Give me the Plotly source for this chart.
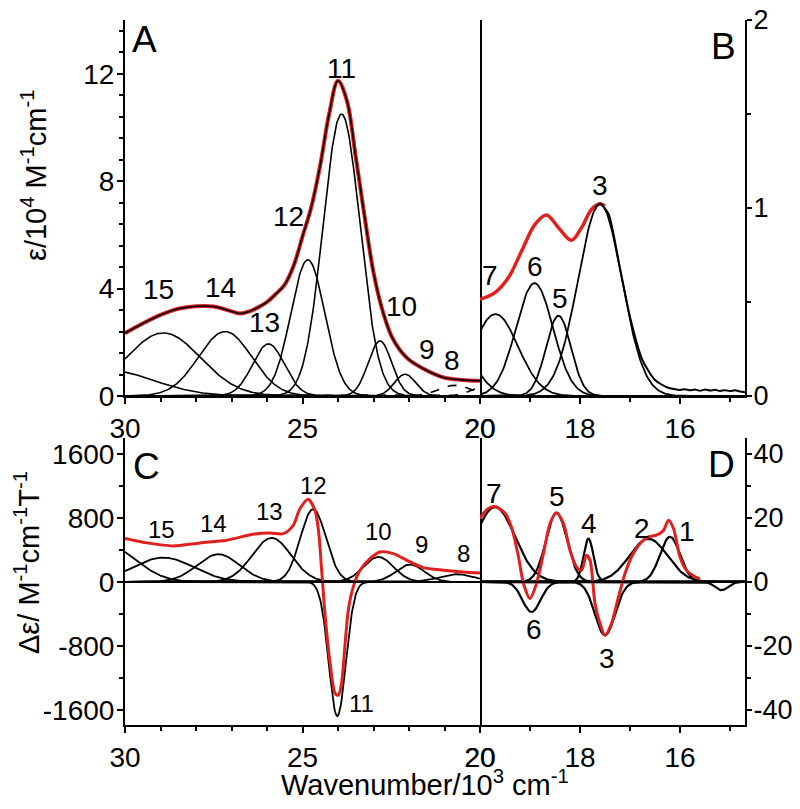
import numpy as np
import plotly.graph_objects as go

FONT = "Liberation Sans, Arial, sans-serif"
RED = "#e0201c"

# ---------------- data ----------------
# Absorption (panels A and B), units 10^4 M^-1 cm^-1, x in 10^3 cm^-1
abs_labels = ["16", "15", "14", "13", "12", "11", "10", "9", "8", "7", "6", "5", "3"]
abs_centers = [30.5, 28.92, 27.18, 25.96, 24.85, 23.90, 22.82, 22.11, 20.70, 19.69, 18.91, 18.43, 17.60]
abs_heights = [0.96, 2.35, 2.40, 1.94, 5.07, 10.5, 2.05, 0.81, 0.40, 0.436, 0.60, 0.427, 1.02]
abs_widths = [1.30, 1.05, 0.75, 0.45, 0.48, 0.52, 0.33, 0.30, 0.45, 0.45, 0.37, 0.25, 0.44]

# experimental / total absorption curve, panel A range
A_exp_x = [30.0, 29.5, 29.0, 28.5, 28.0, 27.5, 27.0, 26.75, 26.5, 26.25, 26.0, 25.75, 25.5, 25.25,
           25.0, 24.75, 24.5, 24.25, 24.0, 23.75, 23.5, 23.25, 23.0, 22.75, 22.5, 22.25, 22.0,
           21.5, 21.0, 20.5, 20.0]
A_exp_y = [2.34, 2.70, 3.02, 3.25, 3.34, 3.33, 3.15, 3.07, 3.15, 3.30, 3.50, 3.80, 4.15, 4.85,
           5.94, 7.05, 8.60, 10.5, 11.74, 11.0, 8.90, 6.68, 4.60, 3.20, 2.25, 1.70, 1.35,
           0.95, 0.68, 0.60, 0.57]
# panel B (red part and black experimental tail)
B_fit_x = [20.0, 19.7, 19.43, 19.17, 18.9, 18.67, 18.43, 18.17, 17.97, 17.77, 17.6, 17.5]
B_fit_y = [0.514, 0.55, 0.63, 0.77, 0.913, 0.963, 0.895, 0.828, 0.895, 0.993, 1.023, 1.01]
B_exp_x = [17.7, 17.6, 17.43, 17.2, 17.0, 16.75, 16.5, 16.25, 16.0, 15.9, 15.8, 15.7, 15.6,
           15.5, 15.4, 15.3, 15.2, 15.1, 15.0, 14.9, 14.8, 14.7]
B_exp_y = [1.0, 1.023, 0.97, 0.68, 0.42, 0.19, 0.085, 0.045, 0.032, 0.036, 0.030, 0.034, 0.028,
           0.035, 0.029, 0.033, 0.027, 0.031, 0.026, 0.030, 0.024, 0.020]

# MCD panel C (Delta epsilon, M^-1 cm^-1 T^-1)
c_labels = ["16", "15", "14", "13", "12", "11", "10", "9", "8"]
c_centers = [30.5, 28.92, 27.37, 25.87, 24.70, 24.02, 22.86, 21.97, 20.66]
c_heights = [457, 304, 346, 550, 910, -1679, 312, 217, 96]
c_widths = [0.80, 0.85, 0.60, 0.55, 0.36, 0.24, 0.42, 0.40, 0.50]
C_exp_x = [30.0, 29.39, 28.64, 27.89, 27.14, 26.39, 25.92, 25.54, 25.26, 25.07, 24.84, 24.65,
           24.55, 24.46, 24.36, 24.22, 24.08, 23.99, 23.9, 23.8, 23.71, 23.57, 23.38, 23.1,
           22.82, 22.44, 21.97, 21.6, 21.03, 20.47, 20.0]
C_exp_y = [542, 488, 450, 488, 521, 596, 612, 604, 708, 917, 1035, 896,
           646, 146, -437, -1021, -1396, -1417, -1271, -771, -354, -62, 146, 292,
           375, 354, 250, 179, 146, 125, 112]

# MCD panel D
d_labels = ["7", "6", "5", "4", "3", "2", "1", "0"]
d_centers = [19.70, 18.97, 18.47, 17.83, 17.50, 16.63, 16.20, 15.17]
d_heights = [23.4, -9.4, 21.6, 13.5, -16.7, 13.5, 14.1, -2.6]
d_widths = [0.40, 0.18, 0.21, 0.10, 0.20, 0.38, 0.20, 0.13]
D_exp_x = [20.0, 19.85, 19.7, 19.5, 19.37, 19.23, 19.13, 19.0, 18.87, 18.73, 18.6, 18.47, 18.33,
           18.2, 18.07, 17.97, 17.87, 17.8, 17.7, 17.6, 17.5, 17.37, 17.23, 17.1, 16.97, 16.77,
           16.63, 16.47, 16.33, 16.23, 16.13, 16.0, 15.87, 15.7, 15.6]
D_exp_y = [19.8, 22.8, 23.6, 21.5, 17.2, 7.8, -0.5, -5.2, -0.5, 8.9, 18.2, 21.6, 18.2,
           9.9, 4.7, 3.6, 8.3, 6.8, -6.8, -13.0, -16.7, -13.0, -4.7, 2.6, 7.8, 12.5,
           14.1, 14.6, 16.1, 19.3, 16.7, 7.8, 3.6, 1.6, 1.0]

# tick values / labels
A_yticks = [0, 4, 8, 12]
B_yticks = [0, 1, 2]
C_yticks = [-1600, -800, 0, 800, 1600]
D_yticks = [-40, -20, 0, 20, 40]
AC_xticks = [30, 25, 20]
BD_xticks = [20, 18, 16]

# ---------------- figure ----------------
OFF = 8               # default page body margin
W, H = 784, 789       # small enough that the page never needs scrollbars
def px(xp):           # page pixel -> paper fraction
    return (xp - OFF) / W
def py(yp):
    return (H - (yp - OFF)) / H

XL, XM, XR = px(125), px(480), px(745)
TOP = [py(396), py(20)]
BOT = [py(725), py(438)]

def gauss(x, c, a, s):
    return a * np.exp(-(x - c) ** 2 / (2 * s ** 2))

xa = np.linspace(30, 20, 501)
xb = np.linspace(20, 14.7, 266)

fig = go.Figure()
line_k = dict(color="black", width=1.8)

# panel A bands
for lab, c, a, s in zip(abs_labels, abs_centers, abs_heights, abs_widths):
    if c >= 19.5:
        dash = "dash" if c < 21 else "solid"
        fig.add_trace(go.Scatter(x=xa, y=gauss(xa, c, a, s), mode="lines",
                                 line=dict(color="black", width=1.6, dash=dash),
                                 xaxis="x", yaxis="y", showlegend=False, hoverinfo="skip"))
fig.add_trace(go.Scatter(x=A_exp_x, y=A_exp_y, mode="lines", line=dict(color=RED, width=4, shape="spline", smoothing=1.0),
                         xaxis="x", yaxis="y", showlegend=False))
fig.add_trace(go.Scatter(x=A_exp_x, y=A_exp_y, mode="lines", line=dict(color="black", width=1.6, shape="spline", smoothing=1.0),
                         xaxis="x", yaxis="y", showlegend=False))

# panel B bands
for lab, c, a, s in zip(abs_labels, abs_centers, abs_heights, abs_widths):
    if c < 21:
        fig.add_trace(go.Scatter(x=xb, y=gauss(xb, c, a, s), mode="lines", line=line_k,
                                 xaxis="x2", yaxis="y2", showlegend=False, hoverinfo="skip"))
fig.add_trace(go.Scatter(x=B_fit_x, y=B_fit_y, mode="lines", line=dict(color=RED, width=3.5, shape="spline", smoothing=1.0),
                         xaxis="x2", yaxis="y2", showlegend=False))
fig.add_trace(go.Scatter(x=B_exp_x, y=B_exp_y, mode="lines", line=dict(color="black", width=2, shape="spline", smoothing=0.6),
                         xaxis="x2", yaxis="y2", showlegend=False))

# panel C bands
for lab, c, a, s in zip(c_labels, c_centers, c_heights, c_widths):
    fig.add_trace(go.Scatter(x=xa, y=gauss(xa, c, a, s), mode="lines", line=line_k,
                             xaxis="x3", yaxis="y3", showlegend=False, hoverinfo="skip"))
fig.add_trace(go.Scatter(x=C_exp_x, y=C_exp_y, mode="lines", line=dict(color=RED, width=3, shape="spline", smoothing=0.8),
                         xaxis="x3", yaxis="y3", showlegend=False))

# panel D bands
for lab, c, a, s in zip(d_labels, d_centers, d_heights, d_widths):
    fig.add_trace(go.Scatter(x=xb, y=gauss(xb, c, a, s), mode="lines", line=dict(color="black", width=2.2),
                             xaxis="x4", yaxis="y4", showlegend=False, hoverinfo="skip"))
fig.add_trace(go.Scatter(x=D_exp_x, y=D_exp_y, mode="lines", line=dict(color=RED, width=3, shape="spline", smoothing=0.8),
                         xaxis="x4", yaxis="y4", showlegend=False))

tickfont = dict(family=FONT, size=28, color="black")
common = dict(showline=True, linecolor="black", linewidth=2, ticks="outside", ticklen=6, tickwidth=2,
              tickcolor="black", showgrid=False, zeroline=False, tickfont=tickfont, automargin=False,
              tickmode="array", ticklabeloverflow="allow")
ycommon = dict(common, ticklabelstandoff=-3)
rcommon = dict(common, ticklen=5, ticklabelstandoff=-4, tickfont=dict(family=FONT, size=27, color="black"))
minor_common = dict(ticks="outside", ticklen=4, tickwidth=1.5, tickcolor="black", showgrid=False)

def tt(vals):
    return [str(v) for v in vals]

layout = dict(
    width=W, height=H, margin=dict(l=0, r=0, t=0, b=0, autoexpand=False),
    paper_bgcolor="white", plot_bgcolor="white", showlegend=False,
    font=dict(family=FONT, color="black"),
    xaxis=dict(domain=[XL, XM], anchor="y", range=[30, 20], tickvals=AC_xticks, ticktext=tt(AC_xticks),
               minor=dict(dtick=1, tick0=0, **minor_common), **common),
    yaxis=dict(domain=TOP, anchor="x", range=[0, 14], tickvals=A_yticks, ticktext=tt(A_yticks), mirror=True,
               minor=dict(dtick=0.8, tick0=0, **minor_common), **ycommon),
    xaxis2=dict(domain=[XM, XR], anchor="y2", range=[20, 14.7], tickvals=BD_xticks, ticktext=tt(BD_xticks),
                minor=dict(dtick=1, tick0=0, **minor_common), **common),
    yaxis2=dict(domain=TOP, anchor="x2", side="right", range=[0, 2], tickvals=B_yticks, ticktext=tt(B_yticks),
                minor=dict(dtick=0.5, tick0=0, **minor_common), **rcommon),
    xaxis3=dict(domain=[XL, XM], anchor="y3", range=[30, 20], tickvals=AC_xticks, ticktext=tt(AC_xticks),
                minor=dict(dtick=1, tick0=0, **minor_common), **common),
    yaxis3=dict(domain=BOT, anchor="x3", range=[-1790, 1800], tickvals=C_yticks, ticktext=tt(C_yticks), mirror=True,
                minor=dict(dtick=400, tick0=0, **minor_common), **ycommon),
    xaxis4=dict(domain=[XM, XR], anchor="y4", range=[20, 14.7], tickvals=BD_xticks, ticktext=tt(BD_xticks),
                minor=dict(dtick=1, tick0=0, **minor_common), **common),
    yaxis4=dict(domain=BOT, anchor="x4", side="right", range=[-44.75, 45], tickvals=D_yticks, ticktext=tt(D_yticks),
                minor=dict(dtick=10, tick0=0, **minor_common), **rcommon),
)
fig.update_layout(**layout)

# zero line across C and D
fig.add_shape(type="line", xref="paper", x0=XL, x1=XR, yref="y3", y0=0, y1=0,
              line=dict(color="black", width=2))

ann = []
def lab(text, x, y, xr, yr, size=28):
    ann.append(dict(text=text, x=x, y=y, xref=xr, yref=yr, showarrow=False,
                    font=dict(family=FONT, size=size, color="black"),
                    xanchor="center", yanchor="middle"))

# band labels A
for t, x, y in [("15", 29.06, 3.96), ("14", 27.32, 4.03), ("13", 26.06, 2.73), ("12", 25.4, 6.68),
                ("11", 23.9, 12.2), ("10", 22.2, 3.34), ("9", 21.5, 1.74), ("8", 20.8, 1.31)]:
    lab(t, x, y, "x", "y")
for t, x, y in [("7", 19.8, 0.64), ("6", 18.91, 0.69), ("5", 18.4, 0.52), ("3", 17.6, 1.12)]:
    lab(t, x, y, "x2", "y2")
for t, x, y in [("15", 28.97, 650), ("14", 27.51, 733), ("13", 25.92, 879), ("12", 24.7, 1212),
                ("11", 23.33, -1517), ("10", 22.86, 629), ("9", 21.64, 462), ("8", 20.47, 358)]:
    lab(t, x, y, "x3", "y3", size=24)
for t, x, y in [("7", 19.73, 27.7), ("5", 18.47, 26.7), ("4", 17.83, 18.3), ("2", 16.77, 16.8),
                ("1", 15.87, 15.7), ("6", 18.93, -15.0), ("3", 17.47, -23.8)]:
    lab(t, x, y, "x4", "y4")
# panel letters
lab("A", 29.44, 13.28, "x", "y", size=37)
lab("B", 15.13, 1.86, "x2", "y2", size=37)
lab("C", 29.39, 1441, "x3", "y3", size=37)
lab("D", 15.17, 36.6, "x4", "y4", size=37)

# axis titles
ann.append(dict(text="ε/10<sup>4</sup> M<sup>-1</sup>cm<sup>-1</sup>", x=px(34), y=py(175),
                xref="paper", yref="paper", showarrow=False, textangle=-90,
                font=dict(family=FONT, size=29, color="black"), xanchor="center", yanchor="middle"))
ann.append(dict(text="Δε/ M<sup>-1</sup>cm<sup>-1</sup>T<sup>-1</sup>", x=px(27), y=py(563),
                xref="paper", yref="paper", showarrow=False, textangle=-90,
                font=dict(family=FONT, size=29, color="black"), xanchor="center", yanchor="middle"))
ann.append(dict(text="Wavenumber/10<sup>3</sup> cm<sup>-1</sup>", x=px(425), y=py(783),
                xref="paper", yref="paper", showarrow=False,
                font=dict(family=FONT, size=29, color="black"), xanchor="center", yanchor="middle"))
fig.update_layout(annotations=ann)

fig.write_html("out.html")
